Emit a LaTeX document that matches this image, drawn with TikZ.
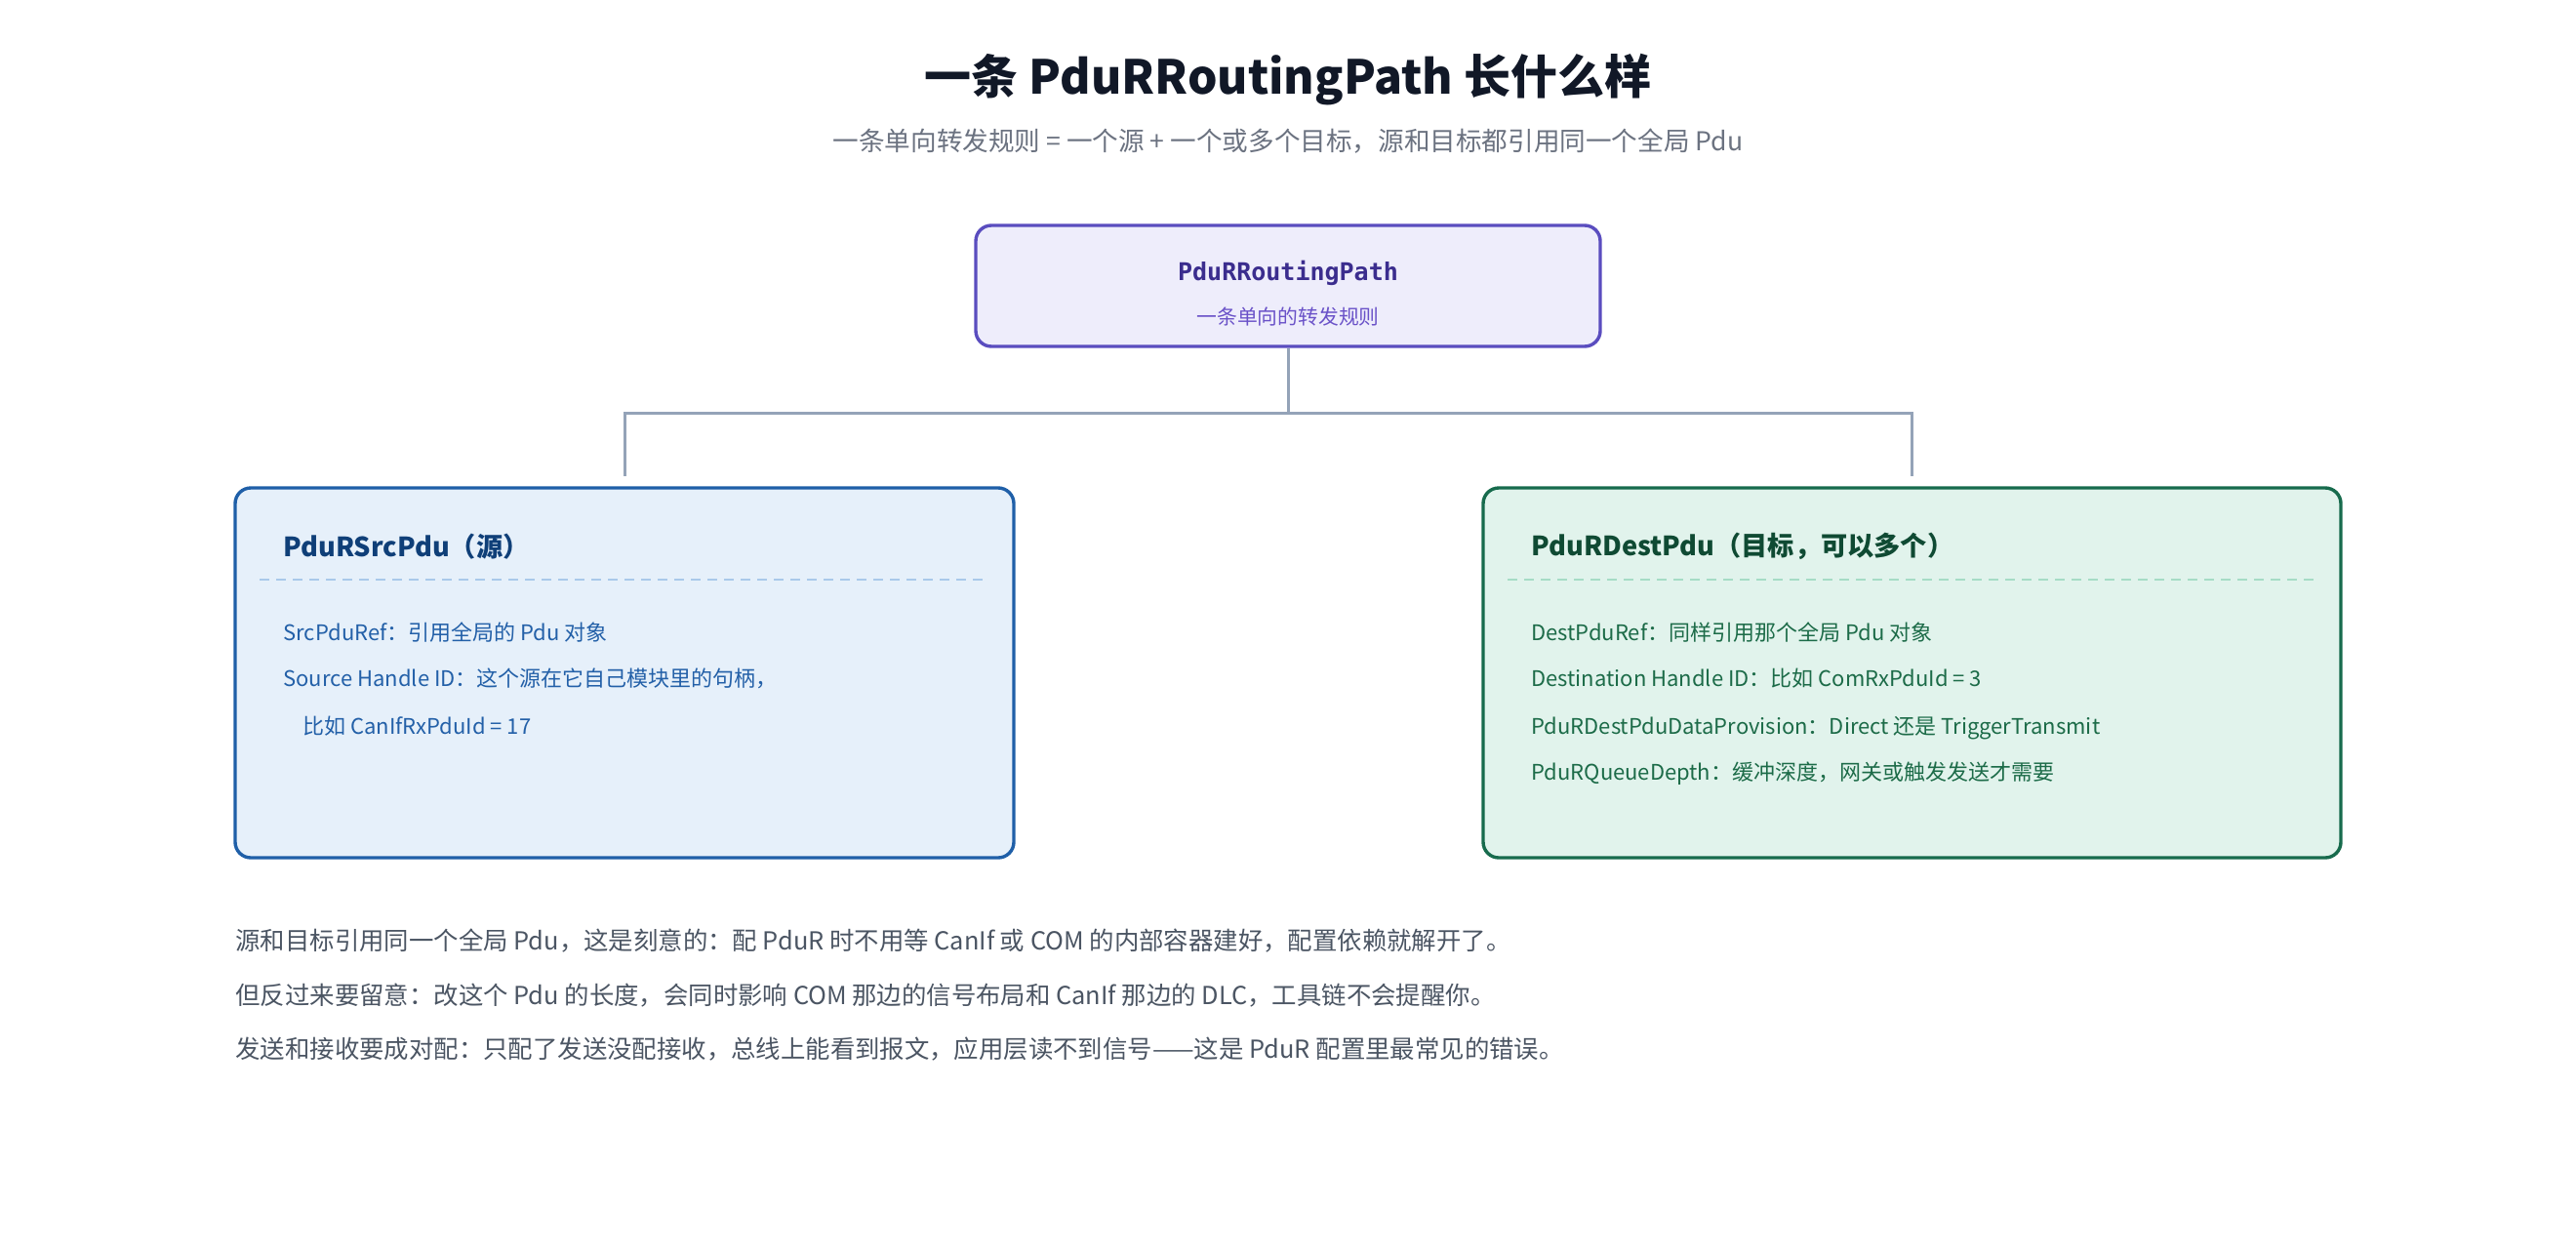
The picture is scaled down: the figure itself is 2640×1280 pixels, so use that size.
\documentclass[tikz,border=0pt]{standalone}
\usepackage{fontspec}
\setmainfont{Noto Sans CJK SC}
\newfontfamily\codefont{DejaVu Sans Mono}
\usepackage{xcolor}
\usetikzlibrary{positioning}
\definecolor{titleink}{HTML}{111827}
\definecolor{subink}{HTML}{6B7280}
\definecolor{pathfill}{HTML}{EEEDFB}
\definecolor{pathline}{HTML}{5A4DBF}
\definecolor{pathink}{HTML}{3B2D8E}
\definecolor{pathsub}{HTML}{6A52C8}
\definecolor{srcfill}{HTML}{E6F0FA}
\definecolor{srcline}{HTML}{1F5FA8}
\definecolor{srcink}{HTML}{0F3F78}
\definecolor{srcbody}{HTML}{2360A8}
\definecolor{srcdash}{HTML}{A9C9EA}
\definecolor{dstfill}{HTML}{E1F3EC}
\definecolor{dstline}{HTML}{176B4D}
\definecolor{dstink}{HTML}{0F4A33}
\definecolor{dstbody}{HTML}{1C6B48}
\definecolor{dstdash}{HTML}{A6DCC6}
\definecolor{linkgray}{HTML}{94A3B8}
\definecolor{noteink}{HTML}{4B5563}

\begin{document}
\begin{tikzpicture}[x=0.5pt,y=-0.5pt,
		card/.style={draw, line width=1.7pt, rounded corners=8pt, inner sep=0pt},
		cardtitle/.style={anchor=west, inner sep=0pt, font=\fontsize{13.6}{16}\selectfont\bfseries},
		cardline/.style={anchor=west, inner sep=0pt, text height=0.85em, text depth=0.25em, font=\fontsize{11}{13}\selectfont},
		divider/.style={line width=1pt, dash pattern=on 5pt off 3.5pt},
		note/.style={anchor=west, inner sep=0pt, text height=0.85em, text depth=0.25em, text=noteink, font=\fontsize{12.7}{15}\selectfont},
		link/.style={draw=linkgray, line width=1.5pt}]
				
				\useasboundingbox (0,0) rectangle (2640,1280);
				
				% Heading
				\node[font=\fontsize{24}{28}\selectfont\bfseries, text=titleink] (heading) at (1320,82) {一条 PduRRoutingPath 长什么样};
				\node[font=\fontsize{13.3}{16}\selectfont, text=subink] (subheading) at (1320,145) {一条单向转发规则 = 一个源 + 一个或多个目标，源和目标都引用同一个全局 Pdu};
				
				% Routing path
				\node[card, fill=pathfill, draw=pathline, minimum width=320pt, minimum height=62pt] (path) at (1320,293) {};
				\node[font=\codefont\bfseries\fontsize{12.5}{15}\selectfont, text=pathink] (pathname) at (1320,280) {PduRRoutingPath};
				\node[font=\fontsize{10.4}{12}\selectfont, text=pathsub] (pathnote) at (1320,325) {一条单向的转发规则};
				
				% Source
				\node[card, fill=srcfill, draw=srcline, minimum width=399pt, minimum height=189.5pt] (src) at (640,689.5) {};
				\node[cardtitle, text=srcink] (srctitle) at (290,560) {PduRSrcPdu（源）};
				\draw[divider, srcdash] (266,594) -- (1012,594);
				\node[cardline, text=srcbody] (srcref) at (290,650) {SrcPduRef：引用全局的 Pdu 对象};
				\node[cardline, text=srcbody] (srchandle) at (290,697) {Source Handle ID：这个源在它自己模块里的句柄，};
				\node[cardline, text=srcbody] (srcexample) at (310,746) {比如 CanIfRxPduId = 17};
				
				% Destination
				\node[card, fill=dstfill, draw=dstline, minimum width=439.5pt, minimum height=189.5pt] (dst) at (1959.5,689.5) {};
				\node[cardtitle, text=dstink] (dsttitle) at (1569,560) {PduRDestPdu（目标，可以多个）};
				\draw[divider, dstdash] (1545,594) -- (2374,594);
				\node[cardline, text=dstbody] (dstref) at (1569,650) {DestPduRef：同样引用那个全局 Pdu 对象};
				\node[cardline, text=dstbody] (dsthandle) at (1569,697) {Destination Handle ID：比如 ComRxPduId = 3};
				\node[cardline, text=dstbody] (dstprovision) at (1569,746) {PduRDestPduDataProvision：Direct 还是 TriggerTransmit};
				\node[cardline, text=dstbody] (dstqueue) at (1569,793) {PduRQueueDepth：缓冲深度，网关或触发发送才需要};
				
				% Tree lines
				\coordinate (fork) at (1320,423);
				\draw[link] (path.south) -- (fork);
				\draw[link, shorten >=5pt] (fork) -| (src.north);
				\draw[link, shorten >=5pt] (fork) -| (dst.north);
				
				% Notes
				\node[note] (noteshared) at (241,967) {源和目标引用同一个全局 Pdu，这是刻意的：配 PduR 时不用等 CanIf 或 COM 的内部容器建好，配置依赖就解开了。};
				\node[note] (notelength) at (241,1023) {但反过来要留意：改这个 Pdu 的长度，会同时影响 COM 那边的信号布局和 CanIf 那边的 DLC，工具链不会提醒你。};
				\node[note] (notepair) at (241,1078) {发送和接收要成对配：只配了发送没配接收，总线上能看到报文，应用层读不到信号——这是 PduR 配置里最常见的错误。};
				
			\end{tikzpicture}
\end{document}
